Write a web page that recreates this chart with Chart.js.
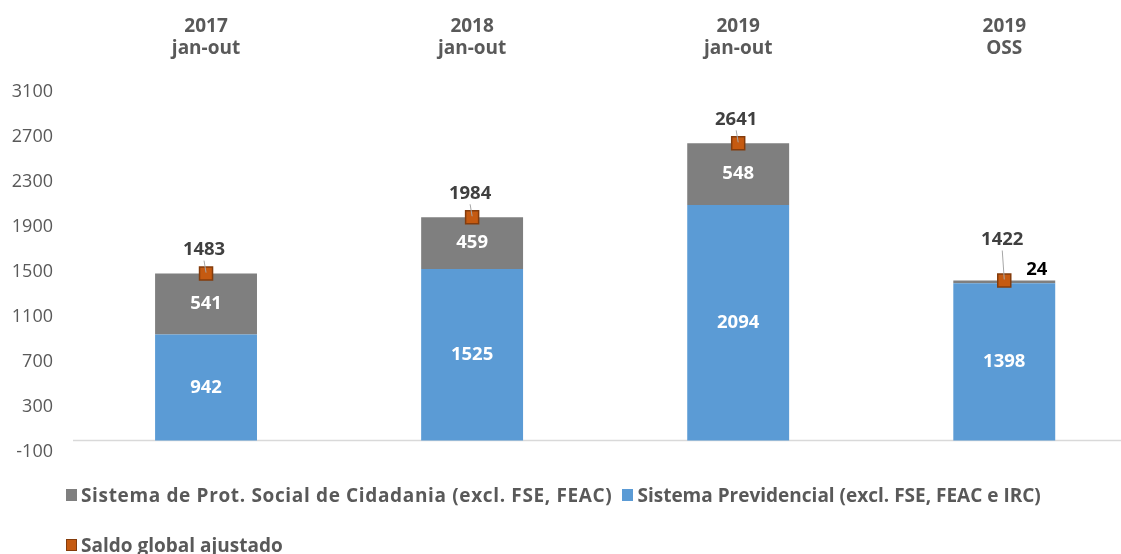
<!DOCTYPE html>
<html><head><meta charset="utf-8">
<script src="https://cdn.jsdelivr.net/npm/chart.js@4/dist/chart.umd.min.js"></script>
<style>
html,body{margin:0;padding:0;overflow:hidden;background:#fff}
#wrap{position:relative;width:1121px;height:554px;overflow:hidden}
#chart{position:absolute;left:0;top:0}
.leg{position:absolute;left:66px;font:bold 19px 'Open Sans',sans-serif;color:#595959;white-space:nowrap;display:flex;align-items:center;height:22px}
.leg i{display:inline-block;width:11px;height:12px;margin-right:4px;box-sizing:border-box}
.leg span{margin-right:10px}
</style>
</head><body>
<div id="wrap">
  <canvas id="chart" width="1148" height="554"></canvas>
  <div class="leg" style="top:484px">
    <i style="background:#7f7f7f"></i><span style="letter-spacing:0.65px">Sistema de Prot. Social de Cidadania (excl. FSE, FEAC)</span>
    <i style="background:#5b9bd5"></i><span>Sistema Previdencial (excl. FSE, FEAC e IRC)</span>
  </div>
  <div class="leg" style="top:534px">
    <i style="background:#c55a11;border:1px solid #843c0c"></i><span>Saldo global ajustado</span>
  </div>
</div>
<script>
// dados (milhões de euros)
const categorias = [['2017','jan-out'],['2018','jan-out'],['2019','jan-out'],['2019','OSS']];
const previdencial = [942, 1525, 2094, 1398];
const protSocial = [541, 459, 548, 24];
const saldo = [1483, 1984, 2641, 1422];
const yMin = -100, yMax = 3100, yStep = 400;

// quanto sobe o rótulo do saldo acima do ponto
const saldoLift = [24, 24, 24, 41];

const zeroLine = {
  id:'zeroLine',
  beforeDatasetsDraw(chart){
    const {ctx, chartArea:a} = chart; const y = Math.round(chart.scales.y.getPixelForValue(0)) + 0.5;
    ctx.save(); ctx.strokeStyle='#d9d9d9'; ctx.lineWidth=1.5;
    ctx.beginPath(); ctx.moveTo(a.left, y); ctx.lineTo(a.right, y); ctx.stroke(); ctx.restore();
  }
};

const valueLabels = {
  id:'valueLabels',
  afterDatasetsDraw(chart){
    const ctx = chart.ctx; ctx.save();
    ctx.textBaseline='middle'; ctx.font='bold 18.5px "Open Sans"';
    [0,1].forEach(di=>{
      chart.getDatasetMeta(di).data.forEach((bar,i)=>{
        const v = chart.data.datasets[di].data[i];
        const h = Math.abs(bar.base - bar.y);
        ctx.textAlign='center';
        if (h < 22){
          ctx.fillStyle='#000';
          ctx.fillText(v, bar.x + bar.width*0.32, bar.y - 11);
        } else {
          ctx.fillStyle='#fff';
          ctx.fillText(v, bar.x, (bar.y + bar.base)/2);
        }
      });
    });
    chart.getDatasetMeta(2).data.forEach((pt,i)=>{
      const lift = saldoLift[i];
      ctx.strokeStyle='#a6a6a6'; ctx.lineWidth=1;
      ctx.beginPath(); ctx.moveTo(pt.x - 2, pt.y - lift + 11); ctx.lineTo(pt.x, pt.y - 1); ctx.stroke();
      ctx.fillStyle='#404040'; ctx.textAlign='center';
      ctx.fillText(saldo[i], pt.x - 2, pt.y - lift);
    });
    ctx.restore();
  }
};

new Chart(document.getElementById('chart'), {
  type:'bar',
  data:{
    labels: categorias,
    datasets:[
      { label:'Sistema Previdencial (excl. FSE, FEAC e IRC)', data: previdencial, backgroundColor:'#5b9bd5', stack:'s', categoryPercentage:1, barPercentage:0.383, order:2 },
      { label:'Sistema de Prot. Social de Cidadania (excl. FSE, FEAC)', data: protSocial, backgroundColor:'#7f7f7f', stack:'s', categoryPercentage:1, barPercentage:0.383, order:2 },
      { type:'line', label:'Saldo global ajustado', data: saldo, stack:'saldo', showLine:false,
        pointStyle:'rect', pointRadius:9.2, pointBackgroundColor:'#c55a11', pointBorderColor:'#843c0c', pointBorderWidth:1.5, order:1 }
    ]
  },
  options:{
    responsive:false, animation:false,
    layout:{ padding:{ top:16, bottom:102.3, right:1, left:0 } },
    plugins:{ legend:{ display:false }, tooltip:{ enabled:false } },
    scales:{
      x:{ position:'top', stacked:true, grid:{ display:false, drawTicks:false }, border:{ display:false },
          ticks:{ padding:31.7, color:'#595959', font:{ family:'Open Sans', weight:'bold', size:19, lineHeight:'22px' } },
          afterFit(s){ s.height = 75.7; } },
      y:{ stacked:true, min:yMin, max:yMax, grid:{ display:false, drawTicks:false }, border:{ display:false },
          ticks:{ stepSize:yStep, padding:20, color:'#595959', font:{ family:'Open Sans', size:18 }, callback:v=>String(v) },
          afterFit(s){ s.width = 73; } }
    }
  },
  plugins:[zeroLine, valueLabels]
});
</script>
</body></html>
